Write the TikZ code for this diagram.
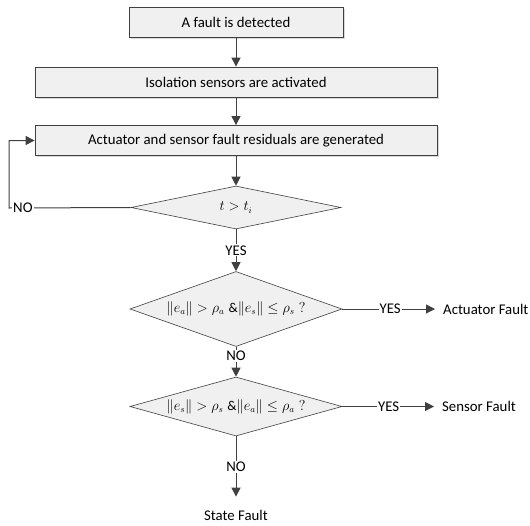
\documentclass[tikz,border=0pt]{standalone}
\usepackage{amsmath}
\usepackage{fontspec}
\setmainfont{Carlito}
\usetikzlibrary{shapes.geometric,arrows.meta,shadows}
\definecolor{ln}{HTML}{404040}
\definecolor{bx}{HTML}{F0F0F0}
\tikzset{
  box/.style={draw=ln, line width=0.8pt, fill=bx, drop shadow={shadow xshift=1.5pt, shadow yshift=-1.5pt, fill=black!25, opacity=0.6}, inner sep=0pt, font=\fontsize{14.8}{17}\selectfont},
  dia/.style={diamond, draw=ln, line width=0.6pt, fill=bx, inner sep=0pt, font=\fontsize{13.5}{15}\selectfont},
  arr/.style={draw=ln, line width=1pt, -{Triangle[length=9pt,width=9pt]}},
  lab/.style={fill=white, inner sep=1pt, font=\fontsize{14.8}{17}\selectfont},
  txt/.style={inner sep=3pt, font=\fontsize{14.8}{17}\selectfont}
}
\begin{document}
\begin{tikzpicture}[x=1pt,y=-1pt]
\useasboundingbox (0,0) rectangle (530,525);
\node[box, minimum width=214pt, minimum height=30pt] (b1) at (236,22) {A fault is detected};
\node[box, minimum width=402pt, minimum height=30pt] (b2) at (236,82) {Isolation sensors are activated};
\node[box, minimum width=402pt, minimum height=30pt] (b3) at (236,140.5) {Actuator and sensor fault residuals are generated};
\node[dia, aspect=5, minimum width=210pt, minimum height=43pt] (d1) at (236,207.5) {$t > t_i$};
\node[dia, aspect=2.8, minimum width=212pt, minimum height=75pt] (d2) at (236,309) {$\lVert e_a\rVert > \rho_a\;\&\lVert e_s\rVert \le \rho_s\;?$};
\node[dia, aspect=3.5, minimum width=212pt, minimum height=59pt] (d3) at (236,406.5) {$\lVert e_s\rVert > \rho_s\;\&\lVert e_a\rVert \le \rho_a\;?$};
\node[txt, anchor=west] (af) at (440,309) {Actuator Fault};
\node[txt, anchor=west] (sf) at (439,406.5) {Sensor Fault};
\node[txt] (st) at (236,515) {State Fault};
\coordinate (c1) at (9,208);

\draw[arr] (b1) -- (b2);
\draw[arr] (b2) -- (b3);
\draw[arr] (b3) -- (d1);
\draw[arr] (d1.west) -- (c1) |- (b3.west);
\node[lab, anchor=west] at (12,208) {NO};
\draw[arr] (d1.south) -- node[lab, pos=0.5] {YES} (d2.north);
\draw[arr, shorten >=5pt] (d2.east) -- node[lab, pos=0.49] {YES} (af.west);
\draw[arr] (d2.south) -- node[lab, pos=0.3] {NO} (d3.north);
\draw[arr, shorten >=5pt] (d3.east) -- node[lab, pos=0.48] {YES} (sf.west);
\draw[arr, shorten >=10pt] (d3.south) -- node[lab, pos=0.44] {NO} (st.north);
\end{tikzpicture}
\end{document}
